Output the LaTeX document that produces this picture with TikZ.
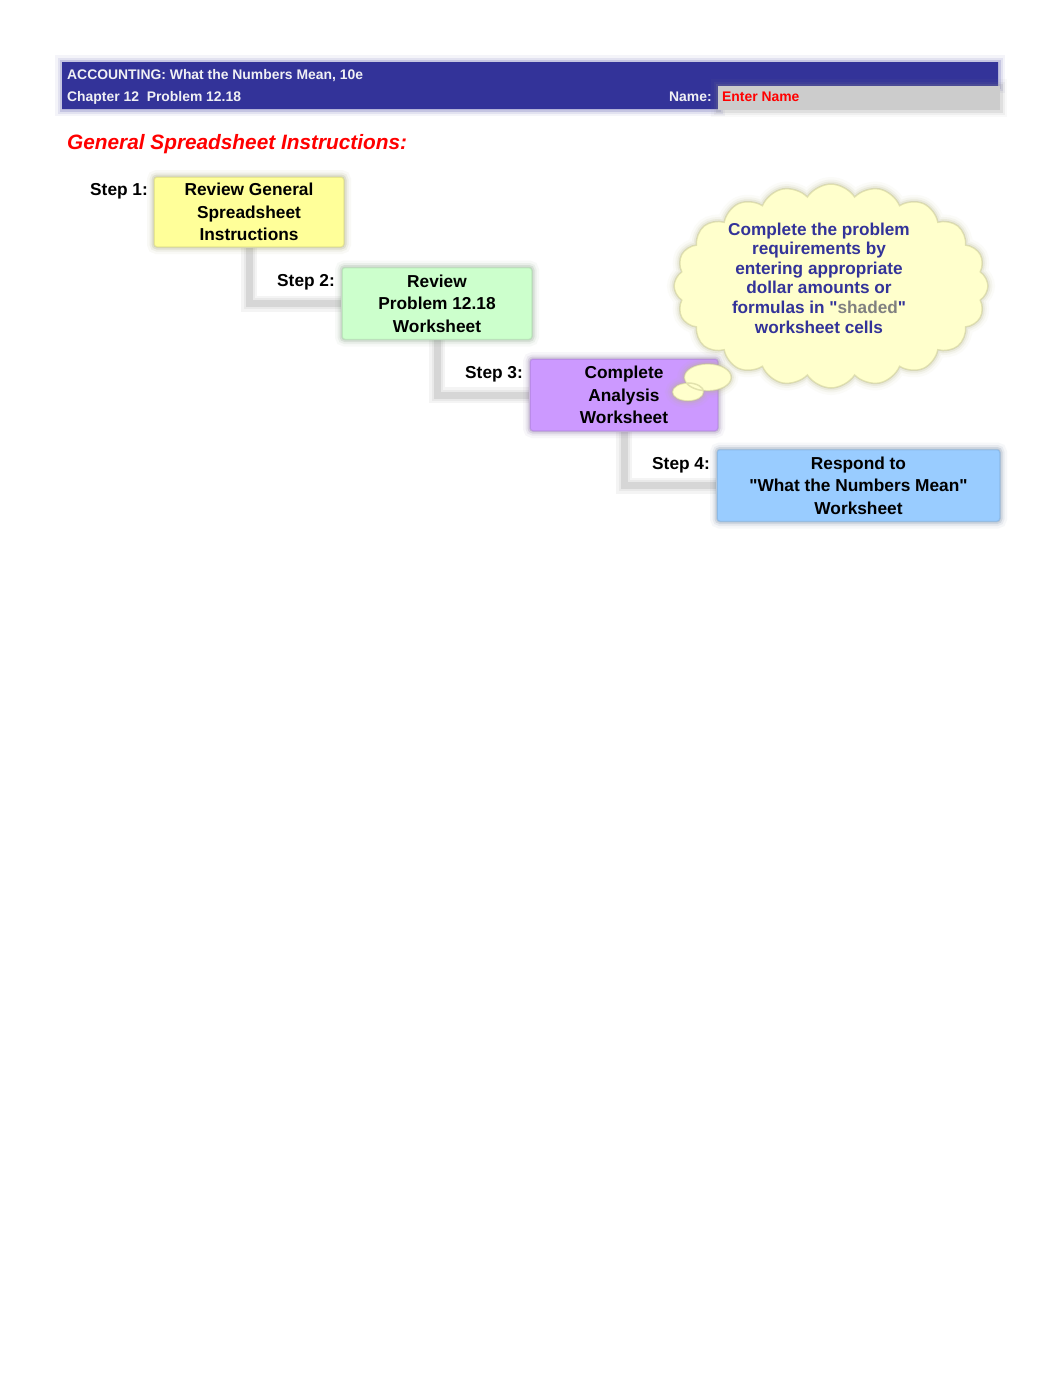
\documentclass[tikz,border=0pt]{standalone}
\usepackage{fontspec}
\setmainfont{Liberation Sans}[Ligatures=TeXOff]
\usetikzlibrary{shapes.symbols,shapes.callouts,calc}
\definecolor{hdrblue}{HTML}{333399}
\definecolor{namegray}{HTML}{CCCCCC}
\definecolor{boxyellow}{HTML}{FFFF99}
\definecolor{boxgreen}{HTML}{CCFFCC}
\definecolor{boxpurple}{HTML}{CC99FF}
\definecolor{boxblue}{HTML}{99CCFF}
\definecolor{cloudfill}{HTML}{FFFFCC}
\definecolor{cloudedge}{HTML}{B8B880}
\definecolor{linkgray}{HTML}{D6D6D6}
\definecolor{shadegray}{HTML}{808080}
\definecolor{hdrwhite}{HTML}{F0F0F4}
\pgfdeclarelayer{canvas}
\pgfdeclarelayer{background}
\pgfsetlayers{canvas,background,main}
\newcommand\bxfont{\fontsize{17.3}{22.5}\selectfont\bfseries}
\newcommand\cldfont{\fontsize{17.2}{19.6}\selectfont\bfseries}
\newcommand\hdfont{\fontsize{13.9}{16}\selectfont\bfseries}
\begin{document}
\begin{tikzpicture}[x=1pt,y=-1pt,
  soft/.style={preaction={draw=#1,line width=14pt,opacity=0.05},
               preaction={draw=#1,line width=9pt,opacity=0.09},
               preaction={draw=#1,line width=5pt,opacity=0.16}},
  stepbox/.style={rectangle, rounded corners=3pt, fill=#1, soft=#1!55!black,
                  draw=#1!75!black, draw opacity=0.35, line width=1.5pt,
                  align=center, font=\bxfont, inner sep=0pt},
  steplabel/.style={anchor=base west, inner sep=0pt, font=\bxfont},
  hdrtext/.style={anchor=base west, inner sep=0pt, font=\hdfont, text=hdrwhite},
  link/.style={draw=linkgray, line width=7pt,
               preaction={draw=linkgray, line width=16pt, opacity=0.25},
               preaction={draw=linkgray, line width=11pt, opacity=0.35}}]
\useasboundingbox (0,0) rectangle (1062,1377);
\begin{pgfonlayer}{canvas}
\fill[white] (0,0) rectangle (1062,1377);
\end{pgfonlayer}

% header band
\fill[hdrblue, soft=hdrblue] (62,62) -- (998,62) -- (998,86) -- (718,86) -- (718,109) -- (62,109) -- cycle;
\fill[namegray, soft=namegray!70!black] (718,86) rectangle (1000,110);
\node[hdrtext] (acc) at (67,79.3) {ACCOUNTING: What the Numbers Mean, 10e};
\node[hdrtext] (chap) at (67,101.5) {Chapter 12\ \ Problem 12.18};
\node[hdrtext] (namelbl) at (669,101.5) {Name:};
\node[hdrtext, text=red] (namefld) at (722,101.5) {Enter Name};

% title
\node[anchor=base west, inner sep=0pt, font=\fontsize{20.8}{24}\selectfont\bfseries\itshape, text=red] (title) at (67,149) {General Spreadsheet Instructions:};

% boxes
\node[stepbox=boxyellow, minimum width=190pt, minimum height=70pt] (b1) at (249,212) {Review General\\Spreadsheet\\Instructions};
\node[stepbox=boxgreen, minimum width=190pt, minimum height=72pt] (b2) at (437,303.5) {Review\\Problem 12.18\\Worksheet};
\node[stepbox=boxpurple, minimum width=188pt, minimum height=72pt] (b3) at (624,395) {Complete\\Analysis\\Worksheet};
\node[stepbox=boxblue, minimum width=283pt, minimum height=72pt] (b4) at (858.5,485.5) {Respond to\\"What the Numbers Mean"\\Worksheet};

% step labels
\node[steplabel] (s1) at (90,195) {Step 1:};
\node[steplabel] (s2) at (277,286) {Step 2:};
\node[steplabel] (s3) at (465,378) {Step 3:};
\node[steplabel] (s4) at (652,469) {Step 4:};

% connectors
\begin{pgfonlayer}{background}
\draw[link] (b1.south) |- (b2.west);
\draw[link] (b2.south) |- (b3.west);
\draw[link] (b3.south) |- (b4.west);
\end{pgfonlayer}

% cloud
\node[cloud callout, cloud puffs=20, cloud puff arc=115, cloud ignores aspect,
      minimum width=314pt, minimum height=204pt, fill=cloudfill, soft=cloudedge,
      draw=cloudedge, draw opacity=0.4, line width=1.5pt,
      callout absolute pointer={(688,392)}, callout pointer segments=2] (cloud) at (831,286) {};
\node[align=center, text=hdrblue, font=\cldfont, inner sep=0pt] (note) at (819,278)
  {Complete the problem\\requirements by\\entering appropriate\\dollar amounts or\\formulas in "\textcolor{shadegray}{shaded}"\\worksheet cells};
\end{tikzpicture}
\end{document}
